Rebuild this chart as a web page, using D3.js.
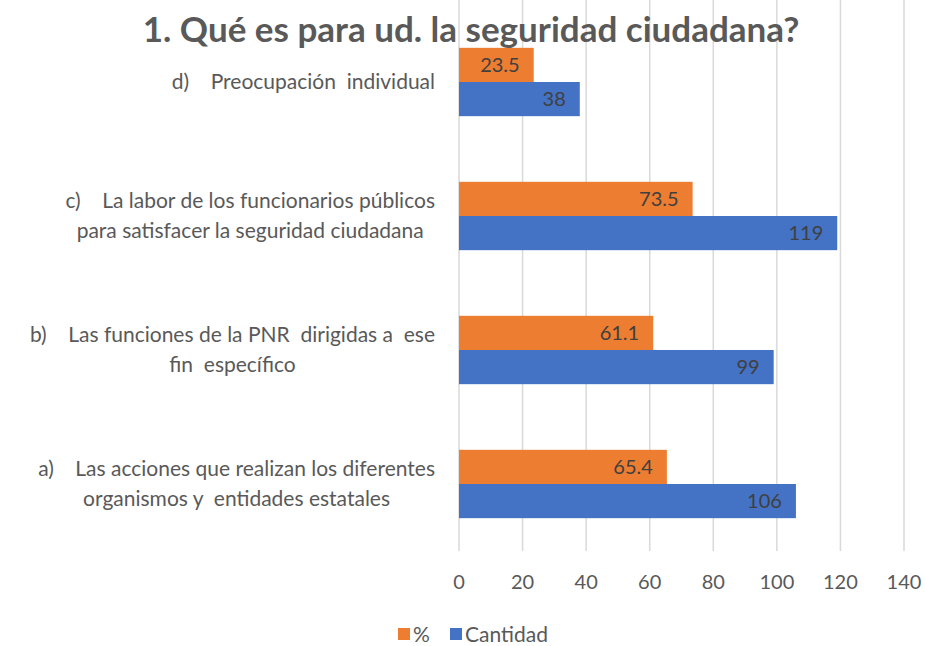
<!DOCTYPE html>
<html>
<head>
<meta charset="utf-8">
<script src="https://cdn.jsdelivr.net/npm/d3@7"></script>
<style>
  body { margin: 0; background: #fff; }
  text { font-family: Lato, "Open Sans", sans-serif; }
</style>
</head>
<body>
<div id="vis"></div>
<script>
// data, bottom to top as in the sheet
var categories = ["a", "b", "c", "d"];
var labelLines = [
  ["a)    Las acciones que realizan los diferentes", "organismos y  entidades estatales"],
  ["b)    Las funciones de la PNR  dirigidas a  ese", "fin  específico"],
  ["c)    La labor de los funcionarios públicos", "para satisfacer la seguridad ciudadana"],
  ["d)    Preocupación  individual"]
];
var pct = [65.4, 61.1, 73.5, 23.5];
var cantidad = [106, 99, 119, 38];
var ticks = [0, 20, 40, 60, 80, 100, 120, 140];
var seriesNames = ["%", "Cantidad"];
var colors = ["#ED7D31", "#4472C4"];

var width = 925, height = 646;
var plotLeft = 459, plotRight = 904, plotTop = 15, plotBottom = 551;

var svg = d3.select("#vis").append("svg")
  .attr("width", width)
  .attr("height", height);

var x = d3.scaleLinear().domain([0, 140]).range([plotLeft, plotRight]);
// top category first on screen
var y = d3.scaleBand().domain(categories.slice().reverse()).range([plotTop, plotBottom]).paddingInner(0.49).paddingOuter(0.245);
var sub = d3.scaleBand().domain(seriesNames).range([0, y.bandwidth()]);

// gridlines
svg.append("g").selectAll("line")
  .data(ticks)
  .enter().append("line")
  .attr("x1", function(d){ return x(d); })
  .attr("x2", function(d){ return x(d); })
  .attr("y1", 0)
  .attr("y2", plotBottom)
  .attr("stroke", "#d9d9d9")
  .attr("stroke-width", 1.5);

// tick labels
svg.append("g").selectAll("text")
  .data(ticks)
  .enter().append("text")
  .attr("x", function(d){ return x(d); })
  .attr("y", 589)
  .attr("text-anchor", "middle")
  .attr("fill", "#595959")
  .style("font-size", "20px")
  .text(function(d){ return d; });

// bars
var rows = categories.map(function(c, i){
  return { cat: c, vals: [pct[i], cantidad[i]] };
});

var groups = svg.append("g").selectAll("g")
  .data(rows)
  .enter().append("g")
  .attr("transform", function(d){ return "translate(0," + y(d.cat) + ")"; });

groups.selectAll("rect")
  .data(function(d){ return d.vals.map(function(v, j){ return { s: seriesNames[j], v: v, j: j }; }); })
  .enter().append("rect")
  .attr("x", x(0))
  .attr("y", function(d){ return sub(d.s); })
  .attr("width", function(d){ return x(d.v) - x(0); })
  .attr("height", sub.bandwidth())
  .attr("fill", function(d){ return colors[d.j]; });

groups.selectAll("text.val")
  .data(function(d){ return d.vals.map(function(v, j){ return { s: seriesNames[j], v: v, j: j }; }); })
  .enter().append("text")
  .attr("class", "val")
  .attr("x", function(d){ return x(d.v) - 14; })
  .attr("y", function(d){ return sub(d.s) + sub.bandwidth() / 2 + 7; })
  .attr("text-anchor", "end")
  .attr("fill", "#404040")
  .style("font-size", "20px")
  .text(function(d){ return d.v; });

// category labels, lines centred in a block that ends at x=435
var labelG = svg.append("g");
rows.forEach(function(r, i){
  var lines = labelLines[i];
  var cy = y(r.cat) + y.bandwidth() / 2;
  var t = labelG.append("text")
    .attr("fill", "#595959")
    .style("font-size", "21px")
    .attr("text-anchor", "middle")
    .style("white-space", "pre");
  var spans = lines.map(function(l){ return t.append("tspan").text(l); });
  var maxW = d3.max(spans, function(s){ return s.node().getComputedTextLength(); });
  var cx = 435 - maxW / 2;
  var y0 = cy - (lines.length - 1) * 15 + 7;
  spans.forEach(function(s, k){
    s.attr("x", cx).attr("y", y0 + k * 30);
  });
});

// title
svg.append("text")
  .attr("x", 471)
  .attr("y", 42)
  .attr("text-anchor", "middle")
  .attr("fill", "#595959")
  .style("font-size", "35px")
  .style("font-weight", "bold")
  .text("1. Qué es para ud. la seguridad ciudadana?");

// legend
var legend = svg.append("g").attr("transform", "translate(398,628)");
var lx = [0, 52];
seriesNames.forEach(function(n, i){
  legend.append("rect")
    .attr("x", lx[i]).attr("y", 0)
    .attr("width", 12).attr("height", 12)
    .attr("fill", colors[i]);
  legend.append("text")
    .attr("x", lx[i] + 15).attr("y", 14)
    .attr("fill", "#595959")
    .style("font-size", "21px")
    .text(n);
});
</script>
</body>
</html>
